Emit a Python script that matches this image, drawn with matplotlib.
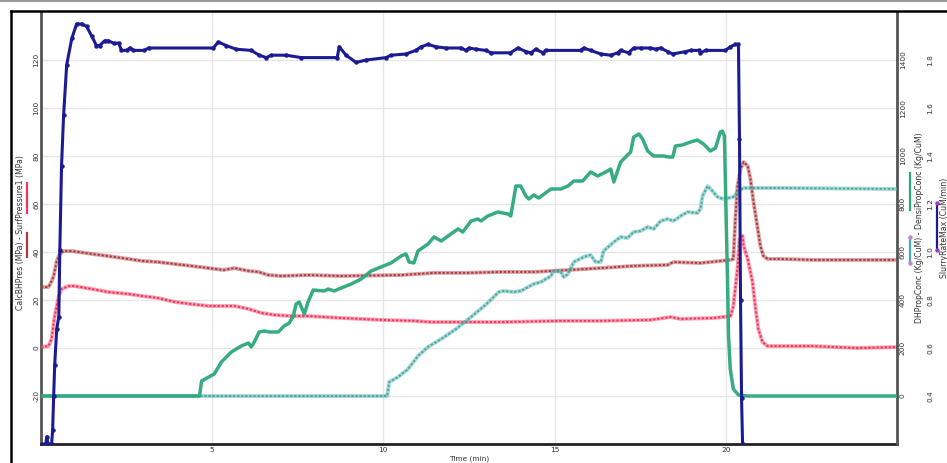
import matplotlib
matplotlib.use("Agg")
import matplotlib.pyplot as plt
from matplotlib.lines import Line2D

# ---- data -------------------------------------------------------------
slurry_rate = [  # (time min, CuM/min)
    (0.00, 0.20), (0.14, 0.20), (0.17, 0.23), (0.20, 0.20), (0.31, 0.20),
    (0.34, 0.26), (0.37, 0.40), (0.40, 0.53), (0.46, 0.68), (0.52, 0.73),
    (0.55, 1.01), (0.60, 1.36), (0.66, 1.57), (0.75, 1.78), (0.90, 1.89),
    (1.04, 1.95), (1.19, 1.95), (1.33, 1.94), (1.48, 1.90), (1.62, 1.86),
    (1.71, 1.86), (1.86, 1.88), (1.97, 1.88), (2.12, 1.87), (2.27, 1.87),
    (2.35, 1.84), (2.50, 1.84), (2.59, 1.85), (2.70, 1.84), (3.02, 1.84),
    (3.14, 1.85), (5.03, 1.85), (5.18, 1.875), (5.41, 1.86), (5.70, 1.845),
    (6.14, 1.84), (6.37, 1.82), (6.58, 1.81), (6.73, 1.82), (7.16, 1.82),
    (7.60, 1.81), (8.65, 1.81), (8.71, 1.855), (8.91, 1.82), (9.20, 1.79),
    (9.50, 1.80), (10.08, 1.81), (10.22, 1.82), (10.66, 1.825), (10.95, 1.84),
    (11.10, 1.855), (11.30, 1.865), (11.54, 1.855), (11.83, 1.85), (12.27, 1.85),
    (12.41, 1.84), (12.50, 1.85), (12.70, 1.845), (12.99, 1.84), (13.14, 1.83),
    (13.71, 1.83), (13.93, 1.85), (14.16, 1.835), (14.31, 1.83), (14.45, 1.845),
    (14.66, 1.83), (14.74, 1.84), (15.76, 1.84), (15.85, 1.85), (16.05, 1.84),
    (16.35, 1.825), (16.64, 1.82), (16.84, 1.83), (16.93, 1.84), (17.16, 1.83),
    (17.31, 1.85), (17.51, 1.85), (17.80, 1.85), (17.95, 1.845), (18.10, 1.85),
    (18.30, 1.835), (18.45, 1.825), (18.82, 1.835), (18.97, 1.84), (19.21, 1.84),
    (19.26, 1.83), (19.41, 1.84), (19.99, 1.84), (20.13, 1.855), (20.28, 1.865),
    (20.37, 1.865), (20.40, 1.47), (20.43, 0.80), (20.46, 0.39), (20.49, 0.20),
]

calc_bh_pres = [  # (time min, MPa)
    (0.00, 25.4), (0.22, 25.4), (0.31, 27.9), (0.37, 30.0), (0.46, 36.3),
    (0.55, 39.2), (0.66, 40.4), (0.90, 40.4), (1.48, 39.2), (1.97, 38.3),
    (2.94, 36.3), (3.43, 35.8), (3.90, 35.0), (4.39, 34.2), (4.89, 33.3),
    (5.33, 32.5), (5.65, 33.3), (6.06, 32.1), (6.35, 31.7), (6.64, 30.4),
    (7.02, 30.0), (7.80, 30.4), (8.77, 30.0), (10.52, 30.4), (11.48, 31.3),
    (12.47, 31.3), (13.43, 31.7), (14.40, 31.7), (15.39, 32.5), (16.35, 33.3),
    (17.31, 34.2), (18.30, 34.6), (18.47, 35.8), (19.26, 35.4), (20.14, 36.7),
    (20.22, 37.1), (20.28, 53.8), (20.34, 67.5), (20.43, 74.6), (20.52, 77.5),
    (20.64, 75.8), (20.72, 70.4), (20.81, 60.8), (20.92, 50.8), (21.01, 42.5),
    (21.10, 38.3), (21.22, 37.1), (21.59, 37.1), (22.56, 36.7), (23.55, 36.7),
    (25.00, 36.7),
]

surf_pressure = [  # (time min, MPa)
    (0.00, 0.4), (0.22, 0.8), (0.31, 3.8), (0.40, 13.3), (0.52, 21.7),
    (0.60, 24.6), (0.81, 25.8), (0.98, 25.8), (1.48, 24.6), (1.97, 23.3),
    (2.56, 22.5), (2.94, 21.7), (3.43, 20.8), (3.90, 19.2), (4.39, 18.3),
    (4.89, 17.5), (5.36, 17.5), (5.65, 17.5), (6.06, 16.3), (6.43, 14.6),
    (6.81, 13.8), (7.31, 13.3), (7.80, 13.3), (8.77, 12.5), (9.93, 11.7),
    (10.89, 11.3), (11.39, 10.8), (13.43, 10.8), (15.18, 11.3), (16.35, 11.3),
    (17.80, 11.7), (18.39, 12.9), (18.68, 12.1), (19.64, 12.5), (20.14, 13.3),
    (20.22, 17.5), (20.34, 32.9), (20.40, 45.4), (20.49, 46.7), (20.52, 42.5),
    (20.64, 37.1), (20.78, 27.5), (20.86, 17.5), (20.95, 7.9), (21.07, 2.5),
    (21.22, 0.8), (22.56, 0.8), (23.84, 0.0), (25.00, 0.4),
]

densi_prop_conc = [  # (time min, Kg/CuM)
    (0.00, 0.0), (4.63, 0.0), (4.69, 62.5), (5.06, 91.7), (5.27, 141.7),
    (5.56, 183.3), (5.85, 208.3), (6.06, 220.8), (6.14, 204.2), (6.23, 225.0),
    (6.37, 266.7), (6.52, 270.8), (6.67, 266.7), (6.93, 266.7), (7.10, 291.7),
    (7.25, 304.2), (7.37, 333.3), (7.45, 383.3), (7.54, 391.7), (7.69, 341.7),
    (7.80, 391.7), (7.95, 441.7), (8.27, 437.5), (8.39, 445.8), (8.56, 437.5),
    (8.77, 450.0), (9.06, 466.7), (9.35, 487.5), (9.64, 520.8), (9.93, 537.5),
    (10.22, 554.2), (10.52, 583.3), (10.66, 591.7), (10.75, 558.3), (10.89, 554.2),
    (11.01, 604.2), (11.30, 633.3), (11.48, 662.5), (11.69, 645.8), (11.97, 675.0),
    (12.18, 695.8), (12.32, 683.3), (12.56, 729.2), (12.76, 737.5), (12.85, 729.2),
    (13.05, 750.0), (13.34, 766.7), (13.64, 758.3), (13.72, 750.0), (13.87, 875.0),
    (14.01, 875.0), (14.16, 833.3), (14.25, 820.8), (14.39, 837.5), (14.54, 825.0),
    (14.89, 862.5), (15.18, 862.5), (15.39, 875.0), (15.56, 895.8), (15.82, 895.8),
    (16.05, 933.3), (16.26, 916.7), (16.55, 937.5), (16.64, 945.8), (16.73, 891.7),
    (16.93, 975.0), (17.22, 1016.7), (17.31, 1079.0), (17.46, 1091.7), (17.57, 1070.8),
    (17.72, 1020.8), (17.89, 1000.0), (18.18, 1000.0), (18.33, 995.8), (18.45, 995.8),
    (18.53, 1041.7), (18.73, 1045.8), (18.97, 1058.3), (19.17, 1066.7), (19.35, 1050.0),
    (19.55, 1020.8), (19.70, 1033.3), (19.84, 1100.0), (19.90, 1104.0), (19.96, 1083.3),
    (19.99, 875.0), (20.05, 487.5), (20.08, 250.0), (20.13, 112.5), (20.22, 29.2),
    (20.37, 4.2), (20.63, 0.0), (25.00, 0.0),
]

dh_prop_conc = [  # (time min, Kg/CuM)
    (0.00, 0.0), (10.11, 0.0), (10.17, 58.3), (10.43, 79.2), (10.72, 112.5),
    (11.01, 166.7), (11.30, 204.2), (11.69, 237.5), (12.12, 279.2), (12.56, 329.2),
    (13.01, 383.3), (13.37, 433.3), (13.52, 437.5), (13.81, 433.3), (14.01, 437.5),
    (14.39, 466.7), (14.60, 475.0), (14.89, 500.0), (14.98, 520.8), (15.18, 516.7),
    (15.27, 495.8), (15.39, 508.3), (15.56, 558.3), (15.85, 579.2), (16.05, 587.5),
    (16.20, 558.3), (16.35, 558.3), (16.43, 604.2), (16.73, 641.7), (16.93, 662.5),
    (17.13, 658.3), (17.31, 683.3), (17.51, 687.5), (17.72, 704.2), (17.89, 695.8),
    (18.10, 729.2), (18.30, 737.5), (18.47, 729.2), (18.68, 750.0), (18.88, 766.7),
    (19.17, 762.5), (19.26, 779.2), (19.32, 833.3), (19.47, 875.0), (19.61, 854.2),
    (19.76, 829.2), (19.93, 820.8), (20.22, 829.2), (20.37, 854.2), (20.52, 866.7),
    (21.59, 866.7), (25.00, 862.5),
]

pres_ticks = [-20, 0, 20, 40, 60, 80, 100, 120]
conc_ticks = [0, 200, 400, 600, 800, 1000, 1200, 1400]
rate_ticks = [0.4, 0.6, 0.8, 1.0, 1.2, 1.4, 1.6, 1.8]
time_ticks = [5, 10, 15, 20]

# ---- colours ----------------------------------------------------------
C_BLUE = "#1b1b94"
C_GREEN = "#2ca87a"
C_TEAL = "#45aaa8"
C_PINK = "#f0365a"
C_DRED = "#ad3a3e"
C_TXT = "#333333"

W, H = 947, 463
fig = plt.figure(figsize=(W / 100, H / 100), dpi=100)
fig.patch.set_facecolor("white")


def fx(px):
    return px / W


def fy(py):
    return 1 - py / H


L, R, T, B = 41, 897, 12, 444
ax = fig.add_axes([fx(L), fy(B), fx(R) - fx(L), fy(T) - fy(B)])
ax2 = ax.twinx()
ax3 = ax.twinx()

ax.set_xlim(0, 25)
ax.set_ylim(-40, 140)
ax2.set_ylim(-200, 1600)
ax3.set_ylim(0.2, 2.0)


def unzip(series):
    return [p[0] for p in series], [p[1] for p in series]


def chain(axis, series, color, z):
    # hollow-marker style trace: light body with darker beads on top
    t, v = unzip(series)
    axis.plot(t, v, color=color, lw=2.8, alpha=0.45, solid_capstyle="round",
              zorder=z)
    axis.plot(t, v, color=color, lw=1.4, ls=(0, (1.2, 0.9)), zorder=z + 0.1)


chain(ax, calc_bh_pres, C_DRED, 3)
chain(ax, surf_pressure, C_PINK, 3.5)
chain(ax2, dh_prop_conc, C_TEAL, 3)
t, v = unzip(densi_prop_conc)
ax2.plot(t, v, color=C_GREEN, lw=2.5, alpha=0.95, zorder=4)
t, v = unzip(slurry_rate)
ax3.plot(t, v, color=C_BLUE, lw=2.2, marker="o", ms=2.2, zorder=5)

# grid
ax.set_yticks(pres_ticks)
ax.set_xticks(time_ticks)
ax.grid(True, color="#e6e6e6", lw=1.0)
ax.set_axisbelow(True)

for a in (ax2, ax3):
    a.patch.set_visible(False)
for a in (ax, ax2, ax3):
    a.spines["top"].set_visible(False)

ax.spines["left"].set_color("#555555")
ax.spines["left"].set_linewidth(2.0)
ax.spines["bottom"].set_color("#222222")
ax.spines["bottom"].set_linewidth(2.0)
ax.spines["right"].set_visible(False)
ax2.spines["right"].set_color("#555555")
ax2.spines["right"].set_linewidth(2.0)
for s in ("left", "bottom"):
    ax2.spines[s].set_visible(False)
    ax3.spines[s].set_visible(False)
ax3.spines["right"].set_position(("outward", 20))
ax3.spines["right"].set_visible(False)

fs = 5.3
ax.tick_params(axis="y", length=0, pad=1.2, labelsize=fs, labelcolor=C_TXT)
ax.set_yticklabels([str(v) for v in pres_ticks], rotation=90, va="center")
ax.tick_params(axis="x", length=0, pad=2.0, labelsize=fs, labelcolor=C_TXT)
ax.set_xticklabels([str(v) for v in time_ticks])
ax.set_xlabel("Time (min)", fontsize=fs, color=C_TXT, labelpad=1.8)

ax2.set_yticks(conc_ticks)
ax2.tick_params(axis="y", length=0, pad=2.0, labelsize=fs, labelcolor=C_TXT)
ax2.set_yticklabels([str(v) for v in conc_ticks], rotation=90, va="center")

ax3.set_yticks(rate_ticks)
ax3.tick_params(axis="y", length=0, pad=2.0, labelsize=fs, labelcolor=C_TXT)
ax3.set_yticklabels([f"{v:.1f}" for v in rate_ticks], rotation=90, va="center")

# axis titles with colour keys
fig.text(fx(20), fy(233), "CalcBHPres (MPa) - SurfPressure1 (MPa)",
         rotation=90, ha="center", va="center", fontsize=5.6, color=C_TXT)
fig.text(fx(919), fy(228), "DHPropConc (Kg/CuM) - DensiPropConc (Kg/CuM)",
         rotation=90, ha="center", va="center", fontsize=5.6, color=C_TXT)
fig.text(fx(944), fy(228), "SlurryRateMax (CuM/min)",
         rotation=90, ha="center", va="center", fontsize=5.6, color=C_TXT)


def key(x, y0, y1, color, ends=None):
    fig.add_artist(Line2D([fx(x), fx(x)], [fy(y0), fy(y1)], color=color,
                          lw=1.6, transform=fig.transFigure))
    if ends:
        fig.add_artist(Line2D([fx(x), fx(x)], [fy(y0), fy(y1)], ls="none",
                              marker="o", ms=2.2, color=ends,
                              transform=fig.transFigure))


key(27, 183, 213, C_PINK)
key(27, 233, 257, C_DRED)
key(910, 173, 210, C_GREEN)
key(910, 237, 263, C_TEAL, ends="#d080d8")
key(937, 203, 250, C_BLUE, ends="#a040c0")

# outer frame
fig.add_artist(Line2D([0, 1], [fy(0.8), fy(0.8)], color="#888888", lw=1.2,
                      transform=fig.transFigure))
fig.add_artist(Line2D([fx(11), 1], [fy(11), fy(11)], color="black", lw=1.8,
                      transform=fig.transFigure))
fig.add_artist(Line2D([fx(11), fx(11)], [fy(11), 0], color="black", lw=1.8,
                      transform=fig.transFigure))

fig.savefig("out.png", dpi=100)
